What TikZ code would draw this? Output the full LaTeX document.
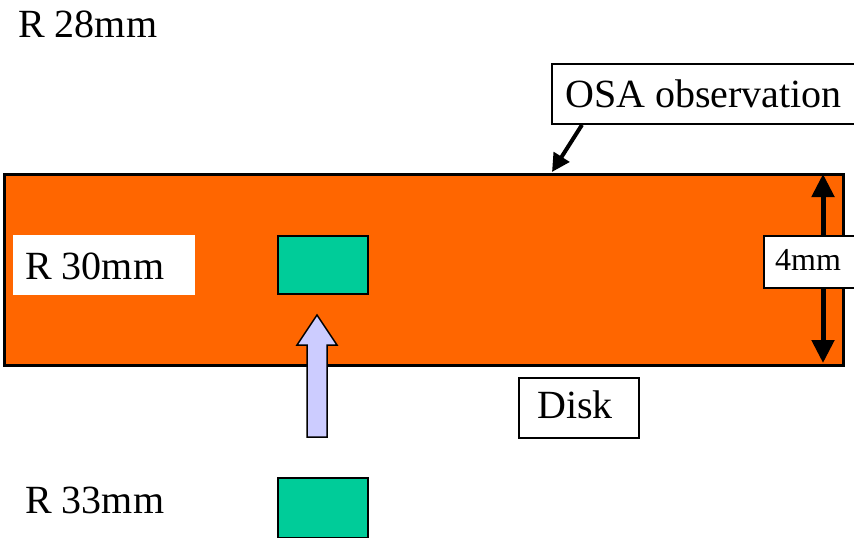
\documentclass[tikz,border=0pt]{standalone}
\usepackage{fontspec}
\setmainfont{Liberation Serif}
\usetikzlibrary{arrows.meta}
\definecolor{diskorange}{HTML}{FF6600}
\definecolor{spotgreen}{HTML}{00CC99}
\definecolor{beamblue}{HTML}{CCCCFF}
\tikzset{
  bigtext/.style={inner sep=0pt, font=\fontsize{40}{46}\selectfont},
  smalltext/.style={inner sep=0pt, font=\fontsize{32}{38}\selectfont},
  strip/.style={draw=black, fill=diskorange, line width=2.5pt, inner sep=0pt},
  spot/.style={draw=black, fill=spotgreen, line width=2pt, inner sep=0pt},
  framebox/.style={draw=black, fill=white, line width=1.8pt, inner sep=0pt},
  plainbox/.style={fill=white, inner sep=0pt},
  pointer/.style={line width=4pt, -{Triangle[length=18pt,width=18pt]}},
  dimarrow/.style={line width=5pt, {Triangle[length=23pt,width=22pt]}-{Triangle[length=23pt,width=22pt]}},
  beam/.style={draw=black, fill=beamblue, line width=1.5pt, line join=miter}
}
\begin{document}
\begin{tikzpicture}[x=1pt,y=-1pt]
  \clip (0,0) rectangle (854,538);
  \fill[white] (0,0) rectangle (854,538);

  % orange disk strip
  \node[strip, anchor=north west, minimum width=839pt, minimum height=191pt] (strip) at (3,173) {};

  % radius labels
  \node[bigtext, anchor=base west] (r28) at (18,37) {R 28mm};
  \node[plainbox, anchor=north west, minimum width=182pt, minimum height=60pt] (r30box) at (13,235) {};
  \node[bigtext, anchor=base west] (r30) at (25,279) {R 30mm};
  \node[bigtext, anchor=base west] (r33) at (25,513) {R 33mm};

  % spots
  \node[spot, anchor=north west, minimum width=90pt, minimum height=58pt] (spot1) at (277,235) {};
  \node[spot, anchor=north west, minimum width=90pt, minimum height=60pt] (spot2) at (277,477) {};

  % beam arrow
  \draw[beam] (307,437) -- (307,345) -- (297,345) -- (317,315) -- (337,345)
    -- (327,345) -- (327,437) -- cycle;

  % strip height dimension
  \coordinate (htop) at (823,174);
  \coordinate (hbot) at (823,363);
  \draw[dimarrow] (htop) -- (hbot);
  \node[framebox, anchor=north west, minimum width=110pt, minimum height=52pt] (hbox) at (763,235) {};
  \node[smalltext, anchor=base west] (hlabel) at (775,270) {4mm};

  % disk label
  \node[framebox, anchor=north west, minimum width=120pt, minimum height=60pt] (diskbox) at (518,377) {};
  \node[bigtext, anchor=base west] (disk) at (537,418) {Disk};

  % OSA observation callout
  \node[framebox, anchor=north west, minimum width=330pt, minimum height=60pt] (osabox) at (551,63) {};
  \node[bigtext, anchor=base west] (osa) at (565,107) {OSA observation};
  \coordinate (osatip) at (552,172);
  \draw[pointer] ([xshift=31pt]osabox.south west) -- (osatip);
\end{tikzpicture}
\end{document}
